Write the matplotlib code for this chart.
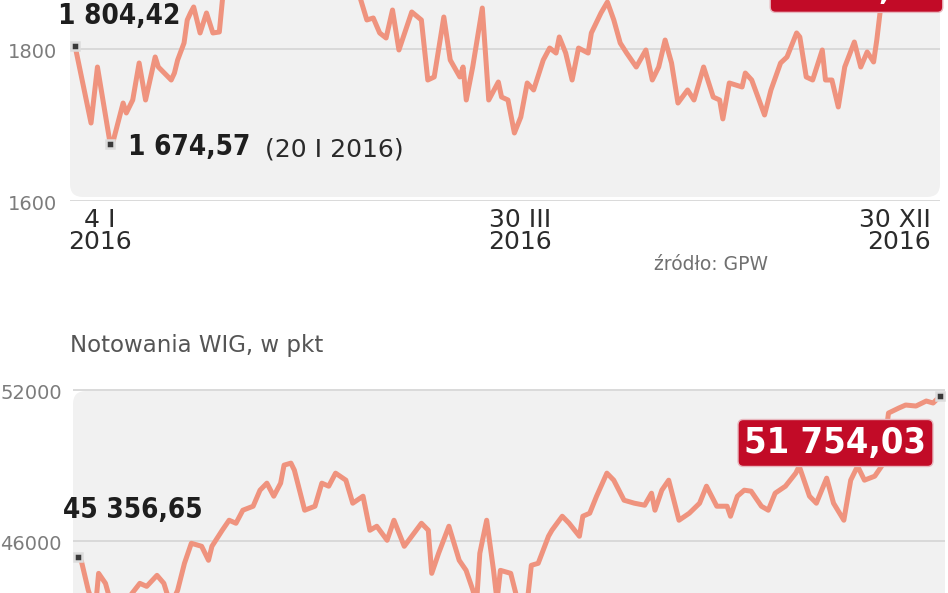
import matplotlib
matplotlib.use('Agg')
import matplotlib.pyplot as plt
from matplotlib.patches import FancyBboxPatch

# WIG20 (top panel, only the lower part is visible in the crop)
top_s = [0, 5, 7, 11, 12, 15, 16, 18, 20, 22, 25, 26, 30, 31, 32, 34, 35, 36, 37, 39,
         41, 43, 45, 46, 48, 51, 54, 57, 60, 63, 66, 70, 74, 78, 82, 86, 88, 89, 91, 93,
         95, 97, 99, 101, 105, 108, 110, 112, 115, 117, 120, 121, 122, 124, 127, 129, 132, 133, 135, 137,
         139, 141, 143, 146, 148, 150, 151, 153, 155, 157, 160, 161, 164, 166, 168, 170, 172, 175, 178, 180,
         182, 184, 186, 188, 191, 193, 196, 199, 201, 202, 204, 208, 209, 211, 215, 217, 220, 222, 225, 226,
         228, 230, 233, 234, 236, 238, 240, 243, 245, 247, 249, 250, 251, 252]
top_v = [1804.42, 1702.6, 1776.3, 1674.57, 1680.3, 1728.9, 1715.8, 1732.9, 1781.6, 1732.9,
         1789.5, 1776.3, 1759.2, 1768.4, 1785.5, 1807.9, 1838.2, 1847.4, 1855.3, 1821.1,
         1847.4, 1821.1, 1822.4, 1866, 1890, 1878, 1910, 1895, 1930, 1905,
         1945, 1915, 1950, 1920, 1940, 1900, 1885, 1866, 1838.2, 1840.8,
         1821.1, 1814.5, 1851.3, 1798.7, 1848.7, 1838.2, 1759.2, 1763.2, 1842.1, 1785.5,
         1763.2, 1776.3, 1732.9, 1776.3, 1853.9, 1732.9, 1756.6, 1736.8, 1732.9, 1689.5,
         1710.5, 1755.3, 1746.1, 1785.5, 1801.3, 1794.7, 1815.8, 1794.7, 1759.2, 1801.3,
         1794.7, 1821.1, 1847.4, 1861.8, 1838.2, 1807.9, 1794.7, 1776.3, 1798.7, 1759.2,
         1776.3, 1811.8, 1781.6, 1728.9, 1746.1, 1732.9, 1776.3, 1736.8, 1732.9, 1708,
         1755.3, 1750, 1768.4, 1759.2, 1713.2, 1746.1, 1781.6, 1789.5, 1821.1, 1815.8,
         1763.2, 1759.2, 1798.7, 1759.2, 1759.2, 1723.7, 1776.3, 1809.2, 1776.3, 1796.1,
         1782.9, 1811.8, 1847.4, 1947.52]

# WIG (bottom panel, cut at the bottom)
wig_s = [0, 1, 3, 5, 6, 8, 11, 13, 18, 20, 23, 25, 27, 29, 31, 33, 36, 38, 39, 42,
         44, 46, 48, 51, 53, 55, 57, 59, 60, 62, 63, 66, 69, 71, 73, 75, 78, 80, 83, 85,
         87, 90, 92, 95, 100, 102, 103, 105, 108, 111, 113, 115, 116, 117, 119, 121, 122, 123, 126, 128,
         129, 131, 132, 134, 137, 138, 141, 143, 146, 147, 149, 151, 154, 156, 159, 162, 165, 167, 168, 170,
         172, 175, 178, 181, 183, 186, 189, 190, 192, 194, 196, 199, 201, 203, 206, 209, 210, 213, 215, 218,
         220, 223, 225, 227, 229, 232, 234, 235, 236, 239, 241, 244, 247, 249, 251]
wig_v = [45356.65, 45193, 44038, 43240, 44715, 44317, 42850, 43440, 44317, 44197,
         44635, 44317, 43440, 44038, 45113, 45909, 45790, 45233, 45790, 46427,
         46825, 46705, 47223, 47382, 48019, 48298, 47780, 48298, 49014, 49094,
         48815, 47223, 47382, 48298, 48178, 48696, 48417, 47502, 47780, 46427,
         46586, 46029, 46825, 45790, 46705, 46427, 44715, 45511, 46586, 45233,
         44834, 44038, 43440, 45511, 46825, 44834, 43640, 44834, 44715, 43640,
         43400, 43800, 45034, 45113, 46188, 46427, 46984, 46705, 46188, 46984,
         47104, 47780, 48696, 48417, 47621, 47502, 47422, 47900, 47223, 48019,
         48417, 46825, 47104, 47502, 48178, 47382, 47382, 46984, 47780, 48019,
         47979, 47382, 47223, 47900, 48178, 48696, 48974, 47780, 47502, 48497,
         47502, 46825, 48417, 48974, 48417, 48576, 48974, 50010, 51084, 51283,
         51403, 51363, 51562, 51483, 51754.03]

top_yticks = [1600, 1800]
wig_yticks = [46000, 52000]
xtick_pos = [7.8, 138.7, 266.9]
xtick_labels = ['4 I\n2016', '30 III\n2016', '30 XII\n2016']
xtick_ha = ['center', 'center', 'right']

W, H = 948, 593
LINE = '#ef937e'
PANEL = '#f1f1f1'
GRID = '#d9d9d9'
RED = '#c20b27'
BOLD = dict(fontweight='bold', fontstretch='condensed', family='DejaVu Sans')

fig = plt.figure(figsize=(W / 100, H / 100), dpi=100)
fig.patch.set_facecolor('white')


def pt(px):
    return px * 0.72


def make_axes(left, right, top, bottom, x0, x1, n, va, pya, vb, pyb):
    ax = fig.add_axes([left / W, 1 - bottom / H, (right - left) / W, (bottom - top) / H])
    kx = (x1 - x0) / n
    ax.set_xlim((left - x0) / kx, (right - x0) / kx)
    ky = (pyb - pya) / (va - vb)
    ax.set_ylim(vb - (bottom - pyb) / ky, va + (pya - top) / ky)
    ax.patch.set_visible(False)
    for sp in ax.spines.values():
        sp.set_visible(False)
    ax.set_xticks([])
    ax.set_yticks([])
    return ax


def panel(x0, x1, ytop, ybot):
    fig.add_artist(FancyBboxPatch((x0 / 100, (H - ybot) / 100), (x1 - x0) / 100, (ybot - ytop) / 100,
                                  boxstyle='round,pad=0,rounding_size=0.13',
                                  transform=fig.dpi_scale_trans, fc=PANEL, ec='none', zorder=-5))


def yticks(ax, ticks, pad_px):
    for v in ticks:
        ax.axhline(v, color=GRID, lw=1.4, zorder=2)
        ax.annotate(str(v), xy=(0, v), xycoords=('axes fraction', 'data'),
                    xytext=(-pt(pad_px), -pt(3.5)), textcoords='offset points',
                    ha='right', va='center', fontsize=14, color='#7c7c7c')


def marker(ax, x, y):
    ax.plot([x], [y], marker='s', ms=5.5, mfc='#3a3a3a', mec='#dcdcdc', mew=1.8,
            zorder=6, clip_on=False)


# ---- top chart (WIG20)
panel(70, 940, -300, 197)
ax1 = make_axes(70, 940, -100, 201, 75, 880, 251, 1800, 49, 1600, 201)
yticks(ax1, top_yticks, 13)
ax1.plot(top_s, top_v, color=LINE, lw=3.6, solid_joinstyle='round', solid_capstyle='round', zorder=3)
marker(ax1, top_s[0], top_v[0])
imin = top_v.index(min(top_v))
marker(ax1, top_s[imin], top_v[imin])

ax1.annotate('1 804,42', xy=(top_s[0], top_v[0]), xytext=(pt(-17), pt(22)), textcoords='offset points',
             ha='left', va='baseline', fontsize=20, color='#1e1e1e', **BOLD)
t_min = ax1.annotate('1 674,57', xy=(top_s[imin], top_v[imin]), xytext=(pt(18), pt(-11)),
                     textcoords='offset points', ha='left', va='baseline', fontsize=20,
                     color='#1e1e1e', **BOLD)
ax1.annotate('(20 I 2016)', xy=(1, 0), xycoords=t_min, xytext=(pt(14), 0), textcoords='offset points',
             ha='left', va='bottom', fontsize=18, color='#2a2a2a')
ax1.annotate('1 947,52', xy=(top_s[-1], top_v[-1]), xytext=(pt(-26.7), pt(-52)), textcoords='offset points',
             ha='center', va='center', fontsize=26, color='white', annotation_clip=False, zorder=7,
             bbox=dict(boxstyle='round,pad=0.18,rounding_size=0.15', fc=RED, ec='#e8b8bf', lw=1), **BOLD)

for x, lab, ha in zip(xtick_pos, xtick_labels, xtick_ha):
    ax1.annotate(lab, xy=(x, 0), xycoords=('data', 'axes fraction'), xytext=(0, pt(-7)),
                 textcoords='offset points', ha=ha, va='top', multialignment=ha,
                 fontsize=18, linespacing=0.92, color='#2b2b2b', annotation_clip=False)

fig.text(654 / W, 1 - 270 / H, 'źródło: GPW', ha='left', va='baseline', fontsize=13.5, color='#707070')

# ---- bottom chart (WIG)
fig.text(70 / W, 1 - 352 / H, 'Notowania WIG, w pkt', ha='left', va='baseline', fontsize=16.5, color='#555555')
panel(73, 945, 391, 900)
ax2 = make_axes(73, 945, 388, 700, 78, 940, 251, 52000, 390, 46000, 541)
yticks(ax2, wig_yticks, 11)
ax2.plot(wig_s, wig_v, color=LINE, lw=3.6, solid_joinstyle='round', solid_capstyle='round', zorder=3)
marker(ax2, wig_s[0], wig_v[0])
marker(ax2, wig_s[-1], wig_v[-1])

ax2.annotate('45 356,65', xy=(wig_s[0], wig_v[0]), xytext=(pt(-15), pt(39)), textcoords='offset points',
             ha='left', va='baseline', fontsize=20, color='#1e1e1e', **BOLD)
ax2.annotate('51 754,03', xy=(wig_s[-1], wig_v[-1]), xytext=(pt(-104.5), pt(-46.8)), textcoords='offset points',
             ha='center', va='center', fontsize=26, color='white', zorder=7,
             bbox=dict(boxstyle='round,pad=0.18,rounding_size=0.15', fc=RED, ec='#e8b8bf', lw=1), **BOLD)

fig.savefig('out.png', dpi=100)
